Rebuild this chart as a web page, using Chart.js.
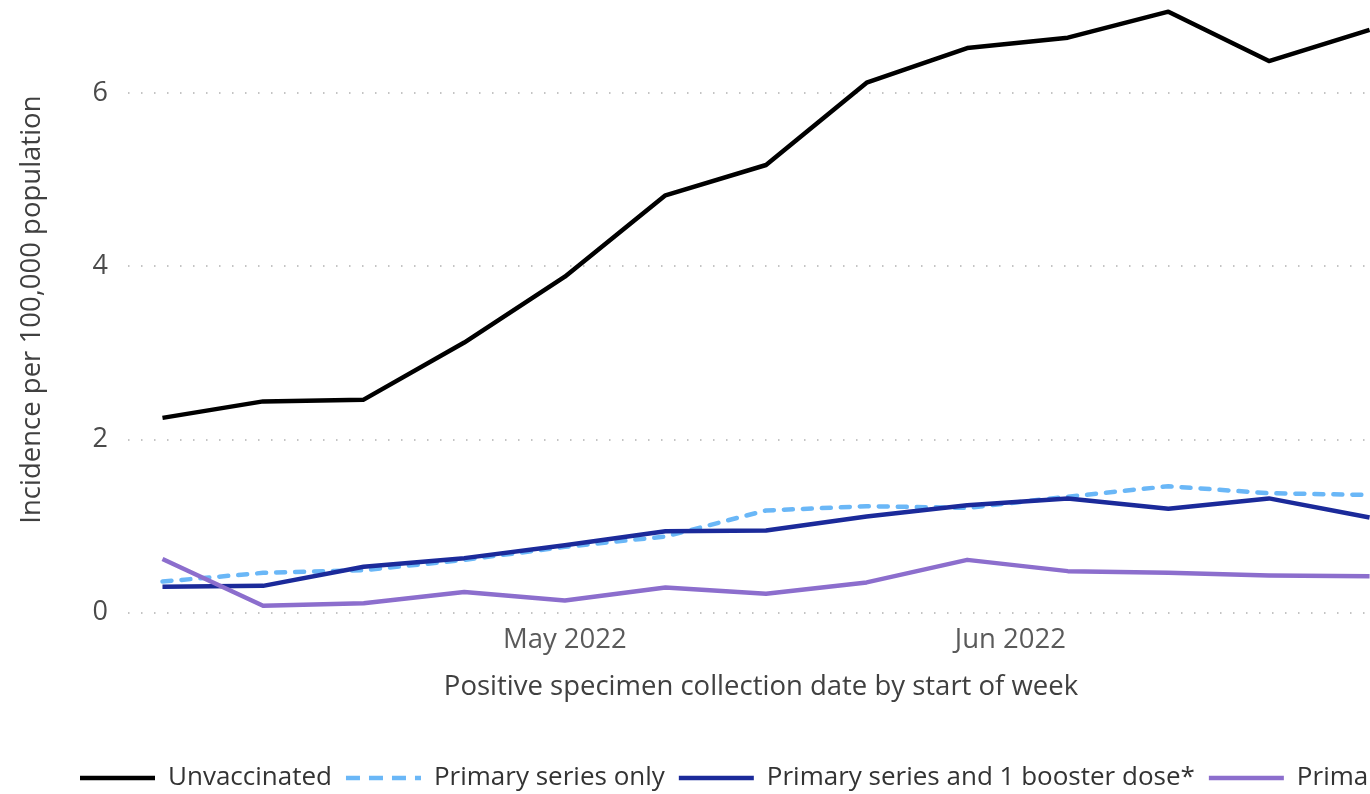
<!DOCTYPE html>
<html>
<head>
<meta charset="utf-8">
<script src="https://cdn.jsdelivr.net/npm/chart.js@4/dist/chart.umd.min.js"></script>
<style>
  html, body { margin: 0; padding: 0; overflow: hidden; background: #fff; }
  #wrap { width: 1800px; height: 802px; position: relative; }
</style>
</head>
<body>
<div id="wrap"><canvas id="c"></canvas></div>
<script>
// ---- data ----
const weekStarts = ['2022-04-03','2022-04-10','2022-04-17','2022-04-24','2022-05-01','2022-05-08','2022-05-15','2022-05-22','2022-05-29','2022-06-05','2022-06-12','2022-06-19','2022-06-26'];
const seriesNames = ['Unvaccinated', 'Primary series only', 'Primary series and 1 booster dose*', 'Primary series and 2 booster doses*'];
const unvaccinated = [2.25, 2.44, 2.46, 3.12, 3.88, 4.82, 5.17, 6.12, 6.52, 6.64, 6.94, 6.37, 6.73];
const primaryOnly  = [0.36, 0.46, 0.49, 0.61, 0.76, 0.88, 1.18, 1.23, 1.21, 1.34, 1.46, 1.38, 1.36];
const booster1     = [0.30, 0.31, 0.53, 0.63, 0.78, 0.94, 0.95, 1.11, 1.24, 1.32, 1.20, 1.32, 1.10];
const booster2     = [0.62, 0.08, 0.11, 0.24, 0.14, 0.29, 0.22, 0.35, 0.61, 0.48, 0.46, 0.43, 0.42];
const xTickDates  = ['2022-05-01', '2022-06-01'];
const xTickLabels = ['May 2022', 'Jun 2022'];
const yTicks = [0, 2, 4, 6];

// ---- helpers ----
const dayOf = s => (Date.parse(s) - Date.parse(weekStarts[0])) / 86400000;
const toPts = arr => weekStarts.map((d, i) => ({ x: dayOf(d), y: arr[i] }));
const xTickDays = xTickDates.map(dayOf);

const FONT = 'Open Sans';
const fLegend = { family: FONT, size: 26 };
const fAxis = { family: FONT, size: 27.5 };

const mk = (label, data, color, order, extra) => Object.assign({
  label, data: toPts(data), borderColor: color, backgroundColor: color,
  borderWidth: 4.5, pointRadius: 0, pointHoverRadius: 0, tension: 0, fill: false,
  borderJoinStyle: 'round', order
}, extra || {});

new Chart(document.getElementById('c'), {
  type: 'line',
  data: {
    datasets: [
      mk(seriesNames[0], unvaccinated, '#000000', 3),
      mk(seriesNames[1], primaryOnly, '#6AB7F7', 2, { borderDash: [9, 10], borderCapStyle: 'round' }),
      mk(seriesNames[2], booster1, '#1B2A9A', 1),
      mk(seriesNames[3], booster2, '#8C6ECD', 0)
    ]
  },
  options: {
    responsive: true,
    maintainAspectRatio: false,
    animation: false,
    events: [],
    layout: { padding: { left: 66, top: 6.5, right: 0, bottom: 1 } },
    scales: {
      x: {
        type: 'linear', min: -2.4, max: 85.7,
        grid: { display: false, drawTicks: false },
        border: { display: false },
        afterBuildTicks: s => { s.ticks = xTickDays.map(v => ({ value: v })); },
        ticks: {
          font: fAxis, color: '#5a5a5a', padding: 11, autoSkip: false, maxRotation: 0,
          callback: v => { const i = xTickDays.indexOf(v); return i >= 0 ? xTickLabels[i] : ''; }
        },
        title: {
          display: true, text: 'Positive specimen collection date by start of week',
          font: fAxis, color: '#404040', padding: { top: 0, bottom: 47 }
        },
        afterFit: s => { s.height = 138.3; }
      },
      y: {
        position: 'left', min: 0, max: 7,
        afterBuildTicks: s => { s.ticks = yTicks.map(v => ({ value: v })); },
        grid: { color: '#c4c4c4', lineWidth: 2, drawTicks: false, borderDash: [1.5, 11.5] },
        border: { display: false, dash: [1.5, 11.5] },
        ticks: { font: { family: FONT, size: 27 }, color: '#4a4a4a', padding: 20 },
        title: {
          display: true, text: 'Incidence per 100,000 population',
          font: fAxis, color: '#404040', padding: { top: -50.5, bottom: 0 }
        },
        afterFit: s => { s.width = 62; s.paddingTop = 0; s.paddingBottom = 0; }
      },
      yR: {
        position: 'right', display: true,
        grid: { display: false, drawTicks: false },
        border: { display: false },
        ticks: { display: false },
        afterFit: s => { s.width = 406; s.paddingTop = 0; s.paddingBottom = 0; }
      }
    },
    plugins: {
      tooltip: { enabled: false },
      legend: {
        position: 'bottom', align: 'start',
        labels: {
          usePointStyle: true, pointStyle: 'line', pointStyleWidth: 75,
          padding: 14, font: fLegend, color: '#333333',
          sort: (a, b) => a.datasetIndex - b.datasetIndex,
          generateLabels: chart => {
            const items = Chart.defaults.plugins.legend.labels.generateLabels(chart);
            items.forEach(it => {
              const ds = chart.data.datasets[it.datasetIndex];
              it.lineDash = ds.borderDash ? [14, 9] : [];
              it.lineWidth = ds.borderWidth;
              it.strokeStyle = ds.borderColor;
              it.lineCap = 'butt';
            });
            return items;
          }
        }
      }
    }
  }
});
</script>
</body>
</html>
